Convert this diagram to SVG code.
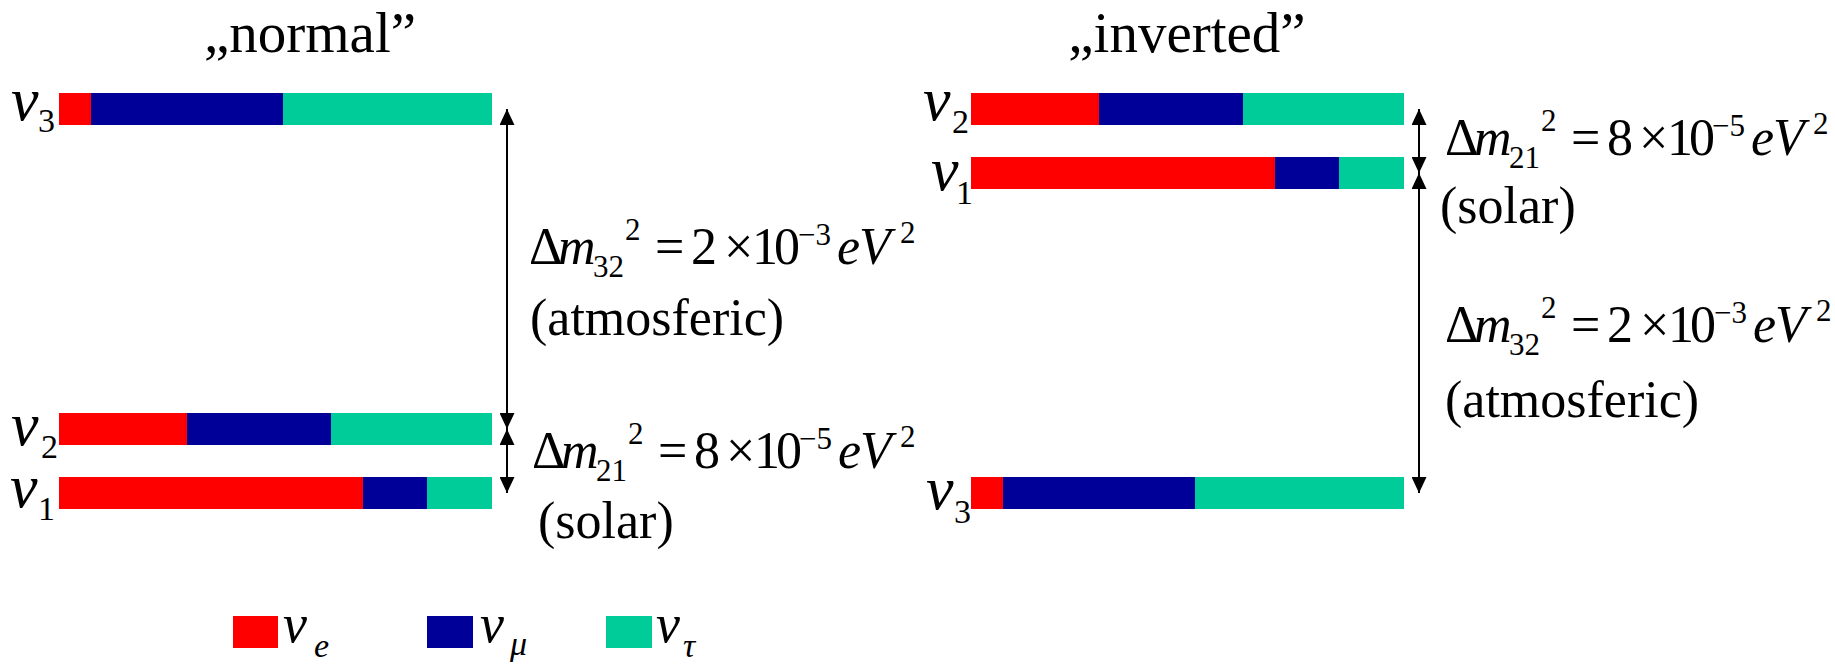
<svg xmlns="http://www.w3.org/2000/svg" width="1835" height="664" viewBox="0 0 1835 664" font-family="'Liberation Serif', 'Times New Roman', serif">
<style>
text{font-family:'Liberation Serif','Times New Roman',serif;fill:#000}
.i{font-style:italic}
.title{font-size:57px}
.nu{font-size:62px;font-style:italic}
.sub{font-size:34px}
.eq{font-size:52px}
.es{font-size:31px}
.lnu{font-size:54px;font-style:italic}
.ls{font-size:34px;font-style:italic}
.r{fill:#FF0000}.b{fill:#000099}.g{fill:#00CC99}
.ar{stroke:#000;stroke-width:2;fill:none;marker-start:url(#ah);marker-end:url(#ah)}
</style>
<defs>
<marker id="ah" markerUnits="userSpaceOnUse" markerWidth="16" markerHeight="15" refX="16" refY="7.5" orient="auto-start-reverse" viewBox="0 0 16 15">
<path d="M0,0 L16,7.5 L0,15 z" fill="#000"/>
</marker>
<g id="eq32">
<text class="eq" x="0" y="0">Δ</text>
<text class="eq i" x="29" y="0">m</text>
<text class="es" x="64" y="13">32</text>
<text class="es" x="96" y="-24">2</text>
<text class="eq" x="126" y="0">=</text>
<text class="eq" x="162" y="0">2</text>
<text class="eq" x="195" y="0">×</text>
<text class="eq" x="223" y="0">1</text>
<text class="eq" x="245" y="0">0</text>
<text class="es" x="269" y="-19">−3</text>
<text class="eq i" x="308" y="0">e</text>
<text class="eq i" x="330" y="0">V</text>
<text class="es" x="371" y="-21">2</text>
</g>
<g id="eq21">
<text class="eq" x="0" y="0">Δ</text>
<text class="eq i" x="29" y="0">m</text>
<text class="es" x="64" y="13">21</text>
<text class="es" x="96" y="-24">2</text>
<text class="eq" x="126" y="0">=</text>
<text class="eq" x="162" y="0">8</text>
<text class="eq" x="194" y="0">×</text>
<text class="eq" x="222" y="0">1</text>
<text class="eq" x="244" y="0">0</text>
<text class="es" x="267" y="-19">−5</text>
<text class="eq i" x="306" y="0">e</text>
<text class="eq i" x="328" y="0">V</text>
<text class="es" x="368" y="-21">2</text>
</g>
</defs>
<rect width="1835" height="664" fill="#fff"/>

<g id="title-normal"><text class="title" x="310" y="52" text-anchor="middle">„normal”</text></g>
<g id="title-inverted"><text class="title" x="1187" y="52" text-anchor="middle">„inverted”</text></g>

<!-- normal hierarchy -->
<g id="n-nu3">
<rect class="r" x="59" y="93" width="32" height="32"/><rect class="b" x="91" y="93" width="192" height="32"/><rect class="g" x="283" y="93" width="209" height="32"/>
<text class="nu" x="11" y="120">ν</text><text class="sub" x="38" y="132">3</text>
</g>
<g id="n-nu2">
<rect class="r" x="59" y="413" width="128" height="32"/><rect class="b" x="187" y="413" width="144" height="32"/><rect class="g" x="331" y="413" width="161" height="32"/>
<text class="nu" x="11" y="445">ν</text><text class="sub" x="41" y="458">2</text>
</g>
<g id="n-nu1">
<rect class="r" x="59" y="477" width="304" height="32"/><rect class="b" x="363" y="477" width="64" height="32"/><rect class="g" x="427" y="477" width="65" height="32"/>
<text class="nu" x="10" y="507">ν</text><text class="sub" x="38" y="520">1</text>
</g>

<!-- inverted hierarchy -->
<g id="i-nu2">
<rect class="r" x="971" y="93" width="128" height="32"/><rect class="b" x="1099" y="93" width="144" height="32"/><rect class="g" x="1243" y="93" width="161" height="32"/>
<text class="nu" x="923" y="120">ν</text><text class="sub" x="952" y="133">2</text>
</g>
<g id="i-nu1">
<rect class="r" x="971" y="157" width="304" height="32"/><rect class="b" x="1275" y="157" width="64" height="32"/><rect class="g" x="1339" y="157" width="65" height="32"/>
<text class="nu" x="931" y="190">ν</text><text class="sub" x="956" y="204">1</text>
</g>
<g id="i-nu3">
<rect class="r" x="971" y="477" width="32" height="32"/><rect class="b" x="1003" y="477" width="192" height="32"/><rect class="g" x="1195" y="477" width="209" height="32"/>
<text class="nu" x="926" y="509">ν</text><text class="sub" x="954" y="523">3</text>
</g>

<g id="connectors">
<line class="ar" x1="507" y1="109" x2="507" y2="429"/>
<line class="ar" x1="507" y1="429" x2="507" y2="493"/>
<line class="ar" x1="1419" y1="109" x2="1419" y2="173"/>
<line class="ar" x1="1419" y1="173" x2="1419" y2="493"/>
</g>

<g id="label-n-atm">
<use href="#eq32" x="529" y="264"/>
<text class="eq" x="530" y="335">(atmosferic)</text>
</g>
<g id="label-n-sol">
<use href="#eq21" x="532" y="468"/>
<text class="eq" x="538" y="538">(solar)</text>
</g>
<g id="label-i-sol">
<use href="#eq21" x="1445" y="155"/>
<text class="eq" x="1440" y="223">(solar)</text>
</g>
<g id="label-i-atm">
<use href="#eq32" x="1445" y="342"/>
<text class="eq" x="1445" y="417">(atmosferic)</text>
</g>

<g id="legend">
<rect class="r" x="233" y="616" width="45" height="32"/>
<text class="lnu" x="283" y="642">ν</text><text class="ls" x="314" y="657">e</text>
<rect class="b" x="427" y="616" width="46" height="32"/>
<text class="lnu" x="480" y="642">ν</text><text class="ls" x="510" y="655">μ</text>
<rect class="g" x="606" y="616" width="46" height="32"/>
<text class="lnu" x="656" y="642">ν</text><text class="ls" x="683" y="657">τ</text>
</g>
</svg>
